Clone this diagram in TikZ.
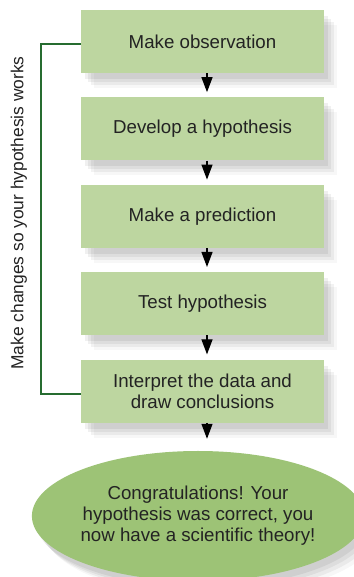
\documentclass[tikz,border=0pt]{standalone}
\usepackage{fontspec}
\setmainfont{Liberation Sans}
\usepackage{tikz}
\usetikzlibrary{
  	positioning,
  	arrows.meta,
  	shapes,
		shadows,
  	calc
  }
\definecolor{boxgreen}{RGB}{189,214,160}
\definecolor{ovalgreen}{RGB}{157,195,118}
\definecolor{loopgreen}{RGB}{38,108,48}
\definecolor{inkgray}{RGB}{35,35,35}
\tikzstyle{softshadow}=[drop shadow={shadow xshift=4pt,shadow yshift=-6pt,fill=black,opacity=0.06},
  drop shadow={shadow xshift=7pt,shadow yshift=-9pt,fill=black,opacity=0.06},
  drop shadow={shadow xshift=10pt,shadow yshift=-12pt,fill=black,opacity=0.05},
  drop shadow={shadow xshift=13pt,shadow yshift=-15pt,fill=black,opacity=0.03}]
\tikzstyle{stepbox}=[rectangle,fill=boxgreen,minimum width=243pt,minimum height=63pt,inner sep=0pt,align=center,text=inkgray,softshadow]
\tikzstyle{theorybox}=[ellipse,fill=ovalgreen,minimum width=322pt,minimum height=130pt,inner sep=0pt,align=center,text=inkgray,softshadow]
\tikzstyle{flowarrow}=[line width=1.2pt,-{Triangle[length=15pt,width=11pt]}]
\tikzstyle{loopline}=[loopgreen,line width=1.5pt]

\begin{document}
\begin{tikzpicture}[x=1pt,y=1pt,font=\fontsize{18.7}{21}\selectfont,node distance=24pt]
\useasboundingbox (0,0) rectangle (353,577);
\node[stepbox] (obs) at (202.5,535.5) {Make observation};
\node[stepbox,below=of obs] (hyp) {Develop a hypothesis};
\node[stepbox,below=of hyp] (pred) {Make a prediction};
\node[stepbox,below=of pred] (test) {Test hypothesis};
\node[stepbox,below=of test] (interp) {Interpret the data and\\draw conclusions};
\node[theorybox] (theory) at (198,61) {Congratulations! Your\\hypothesis was correct, you\\now have a scientific theory!};
% arrows down the chain
\draw[flowarrow,shorten >=5pt] ([xshift=4.5pt]obs.south) -- ([xshift=4.5pt]hyp.north);
\draw[flowarrow,shorten >=5pt] ([xshift=4.5pt]hyp.south) -- ([xshift=4.5pt]pred.north);
\draw[flowarrow,shorten >=5pt] ([xshift=4.5pt]pred.south) -- ([xshift=4.5pt]test.north);
\draw[flowarrow,shorten >=5pt] ([xshift=4.5pt]test.south) -- ([xshift=4.5pt]interp.north);
\draw[flowarrow,shorten >=12pt] ([xshift=4.5pt]interp.south) -- ([xshift=4.5pt]interp.south |- theory.north);
% loop back
\draw[loopline] ([yshift=-2.5pt]obs.west) -- ++(-40pt,0) |- ([yshift=-3pt]interp.west);
\node[rotate=90,text=inkgray,font=\fontsize{17.4}{21}\selectfont] (changes) at (19,364) {Make changes so your hypothesis works};
\end{tikzpicture}
\end{document}
